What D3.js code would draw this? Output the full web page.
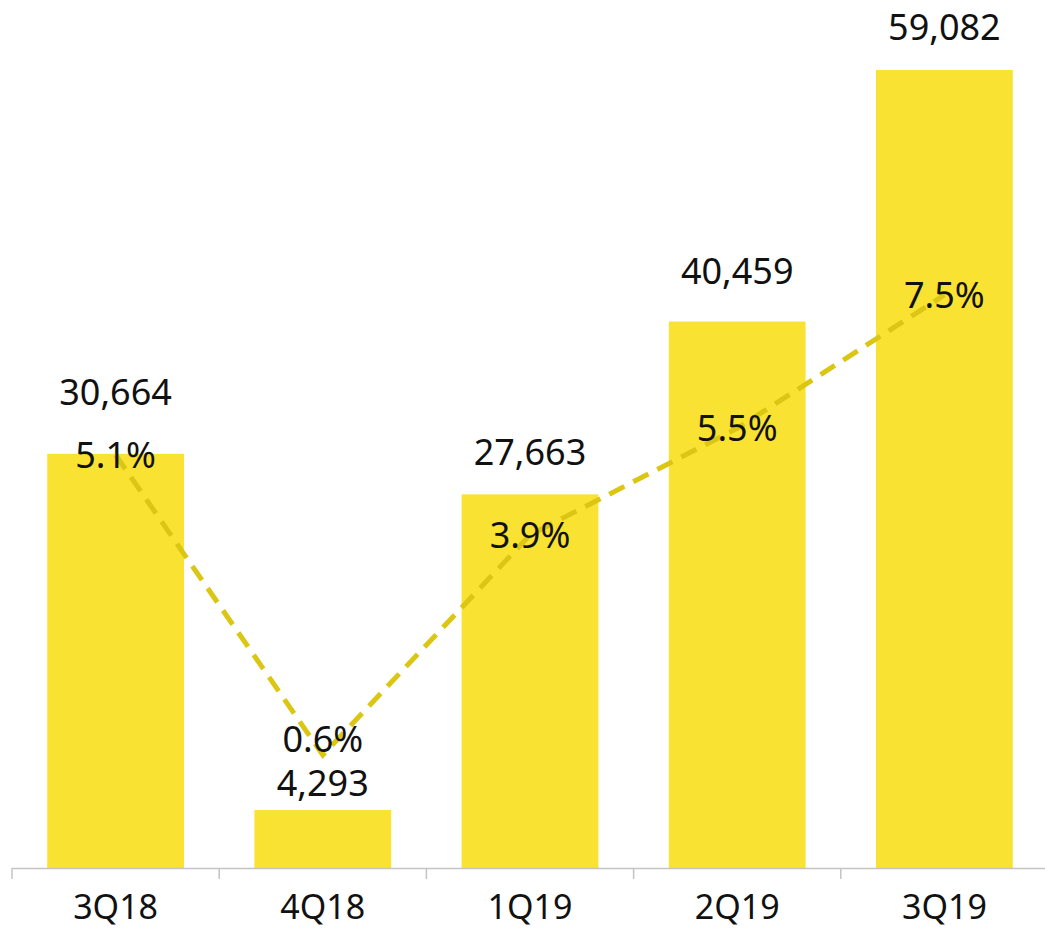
<!DOCTYPE html>
<html>
<head>
<meta charset="utf-8">
<script src="https://cdn.jsdelivr.net/npm/d3@7"></script>
<style>
  body { margin: 0; background: #fff; }
  .chart text { font-family: "Noto Sans", sans-serif; fill: #111; }
</style>
</head>
<body>
<div class="chart"></div>
<script>
// data
const quarters = ['3Q18', '4Q18', '1Q19', '2Q19', '3Q19'];
const values = [30664, 4293, 27663, 40459, 59082];
const shares = [5.1, 0.6, 3.9, 5.5, 7.5];

// label nudges (px above the bar top), per bar
const labelGap = [49, 14, 29, 38, 30];

const svgWidth = 1045;
const svgHeight = 931;
const baseline = 868;

const svg = d3.select('.chart')
    .append('svg')
    .attr('width', svgWidth)
    .attr('height', svgHeight);

const x = d3.scaleBand()
    .domain(quarters)
    .range([12, 1048])
    .paddingInner(0.34)
    .paddingOuter(0.17);

const y = d3.scaleLinear()
    .domain([0, 59082])
    .range([baseline, 70]);

const y2 = d3.scaleLinear()
    .domain([0, 10])
    .range([795, 128.3]);

const cx = d => x(d) + x.bandwidth() / 2;

// bars
svg.selectAll('.bar')
    .data(values)
    .enter()
    .append('rect')
    .attr('class', 'bar')
    .attr('x', (d, i) => x(quarters[i]))
    .attr('y', d => y(d))
    .attr('width', x.bandwidth())
    .attr('height', d => baseline - y(d))
    .attr('fill', '#f9e232');

// axis line + ticks on band boundaries
svg.append('line')
    .attr('x1', 12).attr('x2', svgWidth)
    .attr('y1', baseline + 0.5).attr('y2', baseline + 0.5)
    .attr('stroke', '#c4c4c4')
    .attr('stroke-width', 1.5);

const edges = quarters.map(q => x(q) - x.step() * x.paddingInner() / 2);
svg.selectAll('.tick-mark')
    .data(edges)
    .enter()
    .append('line')
    .attr('x1', d => d).attr('x2', d => d)
    .attr('y1', baseline).attr('y2', baseline + 11)
    .attr('stroke', '#c4c4c4')
    .attr('stroke-width', 1.5);

const xAxis = svg.append('g')
    .attr('transform', `translate(0,${baseline})`)
    .call(d3.axisBottom(x).tickSize(0).tickPadding(27));
xAxis.select('.domain').remove();
xAxis.selectAll('text')
    .style('font-family', '"Noto Sans", sans-serif')
    .style('font-size', '34px')
    .attr('fill', '#222');

// dashed share line
const line = d3.line()
    .x((d, i) => cx(quarters[i]))
    .y(d => y2(d));

svg.append('path')
    .datum(shares)
    .attr('d', line)
    .attr('fill', 'none')
    .attr('stroke', '#dcc614')
    .attr('stroke-width', 5)
    .attr('stroke-dasharray', '17,10');

// value labels
svg.selectAll('.label')
    .data(values)
    .enter()
    .append('text')
    .attr('class', 'label')
    .text(d => d3.format(',')(d))
    .attr('x', (d, i) => cx(quarters[i]))
    .attr('y', (d, i) => y(d) - labelGap[i])
    .attr('text-anchor', 'middle')
    .style('font-size', '36px');

// share labels
svg.selectAll('.pct')
    .data(shares)
    .enter()
    .append('text')
    .attr('class', 'pct')
    .text(d => d.toFixed(1) + '%')
    .attr('x', (d, i) => cx(quarters[i]))
    .attr('y', (d, i) => y2(d) + (i === 1 ? -16 : 0))
    .attr('dy', '0.36em')
    .attr('text-anchor', 'middle')
    .style('font-size', '36px');
</script>
</body>
</html>
